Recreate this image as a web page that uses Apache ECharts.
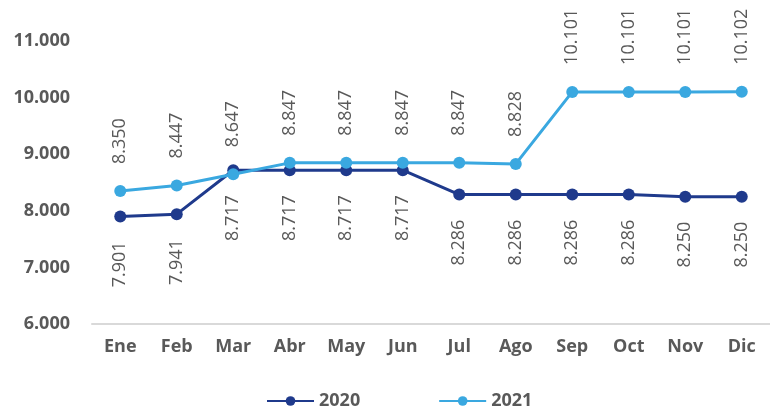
<!DOCTYPE html>
<html>
<head>
<meta charset="utf-8">
<style>
  html, body { margin: 0; padding: 0; background: #ffffff; }
  #chart { width: 770px; height: 408px; }
</style>
<script src="https://cdn.jsdelivr.net/npm/echarts@6/dist/echarts.min.js"></script>
</head>
<body>
<div id="chart"></div>
<script>
// Monthly values for each year
const months = ['Ene', 'Feb', 'Mar', 'Abr', 'May', 'Jun', 'Jul', 'Ago', 'Sep', 'Oct', 'Nov', 'Dic'];
const values2020 = [7901, 7941, 8717, 8717, 8717, 8717, 8286, 8286, 8286, 8286, 8250, 8250];
const values2021 = [8350, 8447, 8647, 8847, 8847, 8847, 8847, 8828, 10101, 10101, 10101, 10102];
const yTicks = [6000, 7000, 8000, 9000, 10000, 11000];

const navy = '#1f3a8c';
const sky = '#3aa8e0';
const textGray = '#595959';

// Thousands separated with a dot: 8350 -> "8.350"
const fmt = v => (v / 1000).toFixed(3);

const chart = echarts.init(document.getElementById('chart'), null, { renderer: 'canvas' });

chart.setOption({
  animation: false,
  backgroundColor: '#ffffff',
  grid: { left: 92, right: -9, top: 41, bottom: 84, containLabel: false },
  legend: {
    bottom: -7,
    left: 261,
    itemWidth: 47,
    itemHeight: 12,
    itemGap: 78,
    textStyle: { color: textGray, fontSize: 18, fontWeight: 'bold', fontFamily: 'Open Sans' },
    data: ['2020', '2021']
  },
  xAxis: {
    type: 'category',
    data: months,
    boundaryGap: true,
    axisLine: { show: true, lineStyle: { color: '#d9d9d9', width: 2 } },
    axisTick: { show: false },
    axisLabel: { color: textGray, fontSize: 18, fontWeight: 'bold', fontFamily: 'Open Sans', margin: 14 },
    splitLine: { show: false }
  },
  yAxis: {
    type: 'value',
    min: yTicks[0],
    max: yTicks[yTicks.length - 1],
    interval: 1000,
    axisLine: { show: false },
    axisTick: { show: false },
    splitLine: { show: false },
    axisLabel: { color: textGray, fontSize: 18, fontWeight: 'bold', fontFamily: 'Open Sans', margin: 22, formatter: fmt }
  },
  series: [
    {
      name: '2020',
      type: 'line',
      data: values2020,
      symbol: 'circle',
      symbolSize: 12,
      itemStyle: { color: navy },
      lineStyle: { color: navy, width: 3 },
      label: {
        show: true,
        position: 'bottom',
        distance: 19,
        rotate: 90,
        align: 'right',
        verticalAlign: 'middle',
        color: textGray,
        fontSize: 18,
        fontFamily: 'Open Sans',
        formatter: p => fmt(p.value)
      },
      z: 2
    },
    {
      name: '2021',
      type: 'line',
      data: values2021,
      symbol: 'circle',
      symbolSize: 12,
      itemStyle: { color: sky },
      lineStyle: { color: sky, width: 3 },
      label: {
        show: true,
        position: 'top',
        distance: 21,
        rotate: 90,
        align: 'left',
        verticalAlign: 'middle',
        color: textGray,
        fontSize: 18,
        fontFamily: 'Open Sans',
        formatter: p => fmt(p.value)
      },
      z: 3
    }
  ]
});
</script>
</body>
</html>
